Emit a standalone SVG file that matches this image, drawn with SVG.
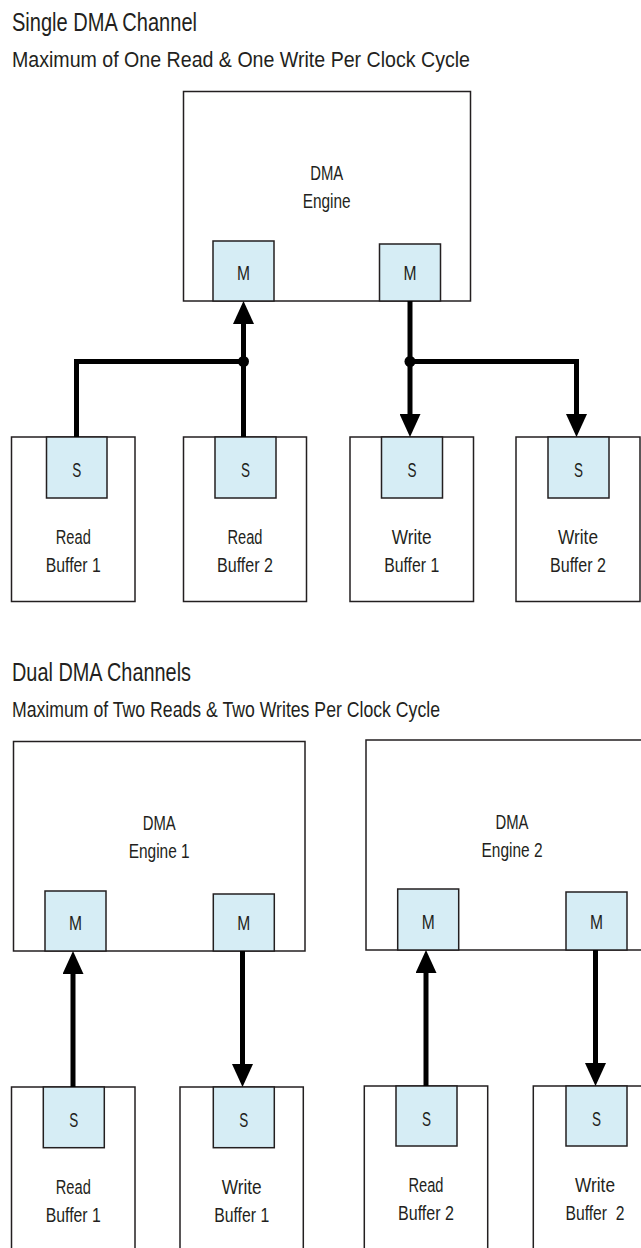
<svg xmlns="http://www.w3.org/2000/svg" width="641" height="1248" viewBox="0 0 641 1248">
<style>
  .box{fill:#fff;stroke:#231f20;stroke-width:1.5}
  .port{fill:#d6edf5;stroke:#231f20;stroke-width:1.5}
  .t{font-family:"Liberation Sans",Arial,sans-serif;fill:#231f20}
  .lbl{font-size:20.5px;text-anchor:middle}
  .title{font-size:25px}
  .sub{font-size:22px}
  .wire{fill:none;stroke:#000;stroke-width:5;stroke-linejoin:miter}
</style>
<defs>
  <marker id="ah" markerUnits="userSpaceOnUse" markerWidth="24" markerHeight="21" viewBox="0 0 24 21" refX="3" refY="10.5" orient="auto">
    <path d="M0,0 L23,10.5 L0,21 z" fill="#000"/>
  </marker>
</defs>
<rect width="641" height="1248" fill="#fff"/>

<g id="titles">
  <text class="t title" x="12" y="31" textLength="185" lengthAdjust="spacingAndGlyphs">Single DMA Channel</text>
  <text class="t sub" x="12" y="67" textLength="458" lengthAdjust="spacingAndGlyphs">Maximum of One Read &amp; One Write Per Clock Cycle</text>
  <text class="t title" x="12" y="681" textLength="179" lengthAdjust="spacingAndGlyphs">Dual DMA Channels</text>
  <text class="t sub" x="12" y="717" textLength="428" lengthAdjust="spacingAndGlyphs">Maximum of Two Reads &amp; Two Writes Per Clock Cycle</text>
</g>

<!-- Single DMA channel -->
<g id="dma-engine">
  <rect class="box" x="183.5" y="91.5" width="287" height="209.5"/>
  <text class="t lbl" x="326.7" y="180" textLength="33" lengthAdjust="spacingAndGlyphs">DMA</text>
  <text class="t lbl" x="326.7" y="208" textLength="48" lengthAdjust="spacingAndGlyphs">Engine</text>
  <rect class="port" x="213" y="241" width="61" height="60"/>
  <text class="t lbl" x="243.5" y="280" textLength="13" lengthAdjust="spacingAndGlyphs">M</text>
  <rect class="port" x="379.5" y="244" width="61" height="57"/>
  <text class="t lbl" x="410" y="280" textLength="13" lengthAdjust="spacingAndGlyphs">M</text>
</g>
<g id="s-read-buffer-1">
  <rect class="box" x="11.5" y="437" width="123.5" height="164.5"/>
  <rect class="port" x="46.5" y="437" width="60.5" height="61"/>
  <text class="t lbl" x="76.8" y="477" textLength="9" lengthAdjust="spacingAndGlyphs">S</text>
  <text class="t lbl" x="73.3" y="544" textLength="35" lengthAdjust="spacingAndGlyphs">Read</text>
  <text class="t lbl" x="73.3" y="572" textLength="55" lengthAdjust="spacingAndGlyphs">Buffer 1</text>
</g>
<g id="s-read-buffer-2">
  <rect class="box" x="183.5" y="437" width="123" height="164.5"/>
  <rect class="port" x="215" y="437" width="61" height="61"/>
  <text class="t lbl" x="245.5" y="477" textLength="9" lengthAdjust="spacingAndGlyphs">S</text>
  <text class="t lbl" x="245" y="544" textLength="35" lengthAdjust="spacingAndGlyphs">Read</text>
  <text class="t lbl" x="245" y="572" textLength="56" lengthAdjust="spacingAndGlyphs">Buffer 2</text>
</g>
<g id="s-write-buffer-1">
  <rect class="box" x="350" y="437" width="123.5" height="164.5"/>
  <rect class="port" x="381.5" y="437" width="61" height="61"/>
  <text class="t lbl" x="412" y="477" textLength="9" lengthAdjust="spacingAndGlyphs">S</text>
  <text class="t lbl" x="411.7" y="544" textLength="40" lengthAdjust="spacingAndGlyphs">Write</text>
  <text class="t lbl" x="411.7" y="572" textLength="55" lengthAdjust="spacingAndGlyphs">Buffer 1</text>
</g>
<g id="s-write-buffer-2">
  <rect class="box" x="516" y="437" width="124" height="164.5"/>
  <rect class="port" x="548" y="437" width="61" height="61"/>
  <text class="t lbl" x="578.5" y="477" textLength="9" lengthAdjust="spacingAndGlyphs">S</text>
  <text class="t lbl" x="578" y="544" textLength="40" lengthAdjust="spacingAndGlyphs">Write</text>
  <text class="t lbl" x="578" y="572" textLength="56" lengthAdjust="spacingAndGlyphs">Buffer 2</text>
</g>

<!-- Dual DMA channels -->
<g id="dma-engine-1">
  <rect class="box" x="13.5" y="741.5" width="291.5" height="209.5"/>
  <text class="t lbl" x="159.2" y="830" textLength="33" lengthAdjust="spacingAndGlyphs">DMA</text>
  <text class="t lbl" x="159.2" y="858" textLength="61" lengthAdjust="spacingAndGlyphs">Engine 1</text>
  <rect class="port" x="45" y="891" width="61" height="60"/>
  <text class="t lbl" x="75.5" y="930" textLength="13" lengthAdjust="spacingAndGlyphs">M</text>
  <rect class="port" x="213.3" y="894" width="61" height="57"/>
  <text class="t lbl" x="243.8" y="930" textLength="13" lengthAdjust="spacingAndGlyphs">M</text>
</g>
<g id="dma-engine-2">
  <rect class="box" x="366" y="740" width="292" height="210"/>
  <text class="t lbl" x="512" y="828.5" textLength="33" lengthAdjust="spacingAndGlyphs">DMA</text>
  <text class="t lbl" x="512" y="856.5" textLength="61" lengthAdjust="spacingAndGlyphs">Engine 2</text>
  <rect class="port" x="397.7" y="889" width="61" height="61"/>
  <text class="t lbl" x="428.2" y="929" textLength="13" lengthAdjust="spacingAndGlyphs">M</text>
  <rect class="port" x="566" y="892" width="61" height="58"/>
  <text class="t lbl" x="596.5" y="929" textLength="13" lengthAdjust="spacingAndGlyphs">M</text>
</g>
<g id="d-read-buffer-1">
  <rect class="box" x="11.5" y="1087" width="123.5" height="164.5"/>
  <rect class="port" x="43.3" y="1087" width="61" height="60.7"/>
  <text class="t lbl" x="73.8" y="1126.5" textLength="9" lengthAdjust="spacingAndGlyphs">S</text>
  <text class="t lbl" x="73.3" y="1193.5" textLength="35" lengthAdjust="spacingAndGlyphs">Read</text>
  <text class="t lbl" x="73.3" y="1221.5" textLength="55" lengthAdjust="spacingAndGlyphs">Buffer 1</text>
</g>
<g id="d-write-buffer-1">
  <rect class="box" x="180" y="1087" width="123.3" height="164.5"/>
  <rect class="port" x="213.3" y="1087" width="61" height="60.7"/>
  <text class="t lbl" x="243.8" y="1126.5" textLength="9" lengthAdjust="spacingAndGlyphs">S</text>
  <text class="t lbl" x="241.7" y="1193.5" textLength="40" lengthAdjust="spacingAndGlyphs">Write</text>
  <text class="t lbl" x="241.7" y="1221.5" textLength="55" lengthAdjust="spacingAndGlyphs">Buffer 1</text>
</g>
<g id="d-read-buffer-2">
  <rect class="box" x="364.3" y="1086" width="123.4" height="164.5"/>
  <rect class="port" x="396" y="1086" width="61" height="60"/>
  <text class="t lbl" x="426.5" y="1125.5" textLength="9" lengthAdjust="spacingAndGlyphs">S</text>
  <text class="t lbl" x="426" y="1192" textLength="35" lengthAdjust="spacingAndGlyphs">Read</text>
  <text class="t lbl" x="426" y="1220" textLength="56" lengthAdjust="spacingAndGlyphs">Buffer 2</text>
</g>
<g id="d-write-buffer-2">
  <rect class="box" x="533.3" y="1086" width="124" height="164.5"/>
  <rect class="port" x="566" y="1086" width="61" height="60"/>
  <text class="t lbl" x="596.5" y="1125.5" textLength="9" lengthAdjust="spacingAndGlyphs">S</text>
  <text class="t lbl" x="595" y="1192" textLength="40" lengthAdjust="spacingAndGlyphs">Write</text>
  <text class="t lbl" x="595" y="1220" textLength="59" lengthAdjust="spacingAndGlyphs" xml:space="preserve">Buffer  2</text>
</g>

<g id="connectors">
  <path class="wire" d="M76.5,437 V361.5 H243.5"/>
  <path class="wire" d="M243.5,437 V321" marker-end="url(#ah)"/>
  <path class="wire" d="M410,301 V417" marker-end="url(#ah)"/>
  <path class="wire" d="M410,361.5 H576.5 V417" marker-end="url(#ah)"/>
  <circle cx="243.5" cy="361.5" r="5.5" fill="#000"/>
  <circle cx="410" cy="361.5" r="5.5" fill="#000"/>
  <path class="wire" d="M73,1087 V971" marker-end="url(#ah)"/>
  <path class="wire" d="M242.5,951 V1067" marker-end="url(#ah)"/>
  <path class="wire" d="M426,1086 V970" marker-end="url(#ah)"/>
  <path class="wire" d="M595.5,950 V1066" marker-end="url(#ah)"/>
</g>
</svg>
